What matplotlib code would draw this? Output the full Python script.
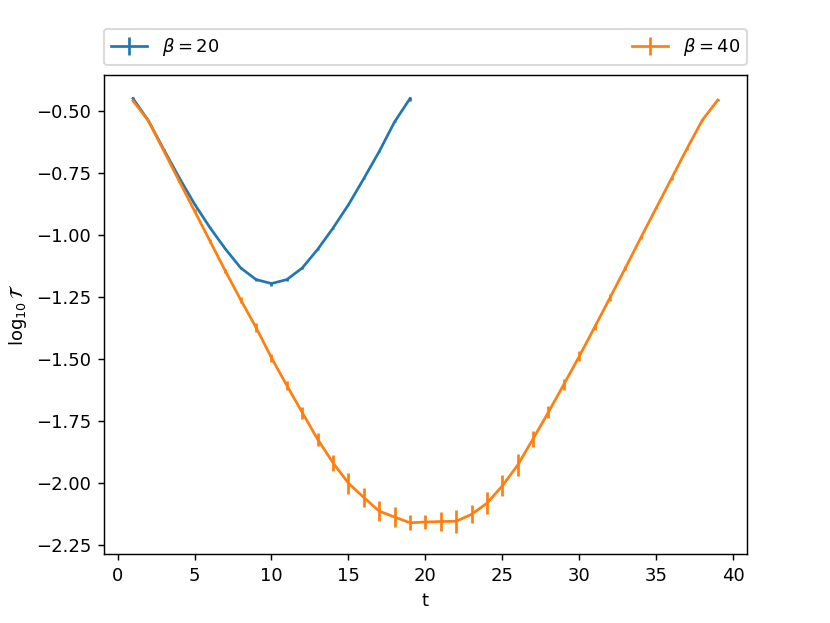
import matplotlib
matplotlib.use('Agg')
import matplotlib.pyplot as plt
import numpy as np

# beta = 20
t20 = np.arange(1, 20)
logT20 = [-0.449, -0.538, -0.655, -0.768, -0.875, -0.970, -1.056, -1.133, -1.180, -1.196,
          -1.180, -1.133, -1.058, -0.972, -0.878, -0.772, -0.663, -0.543, -0.449]
err20 = [0.008, 0.002, 0.002, 0.002, 0.002, 0.002, 0.002, 0.003, 0.007, 0.008,
         0.007, 0.003, 0.002, 0.002, 0.002, 0.002, 0.002, 0.002, 0.008]

# beta = 40
t40 = np.arange(1, 40)
logT40 = [-0.458, -0.539, -0.660, -0.782, -0.903, -1.024, -1.145, -1.262, -1.374, -1.496,
          -1.608, -1.717, -1.825, -1.920, -2.002, -2.060, -2.115, -2.139, -2.162, -2.159,
          -2.157, -2.156, -2.128, -2.083, -2.013, -1.929, -1.823, -1.715, -1.603, -1.490,
          -1.372, -1.253, -1.133, -1.011, -0.891, -0.771, -0.651, -0.536, -0.455]
err40 = [0.003, 0.003, 0.004, 0.005, 0.006, 0.007, 0.009, 0.013, 0.017, 0.015,
         0.019, 0.024, 0.026, 0.032, 0.042, 0.039, 0.040, 0.040, 0.030, 0.027,
         0.040, 0.046, 0.036, 0.044, 0.042, 0.044, 0.032, 0.024, 0.023, 0.020,
         0.011, 0.013, 0.009, 0.007, 0.006, 0.005, 0.004, 0.003, 0.003]

fig = plt.figure(figsize=(830/130, 623/130), dpi=130)
ax = fig.add_subplot(111)

ax.errorbar(t20, logT20, yerr=err20, label=r'$\beta = 20$')
ax.errorbar(t40, logT40, yerr=err40, label=r'$\beta = 40$')

ax.set_xlabel('t')
ax.set_ylabel(r'$\log_{10}\mathcal{T}$')
ax.legend(bbox_to_anchor=(0., 1.02, 1., .102), loc='lower left',
          ncol=2, mode='expand', borderaxespad=0.)

fig.savefig('out.png', dpi=130)
